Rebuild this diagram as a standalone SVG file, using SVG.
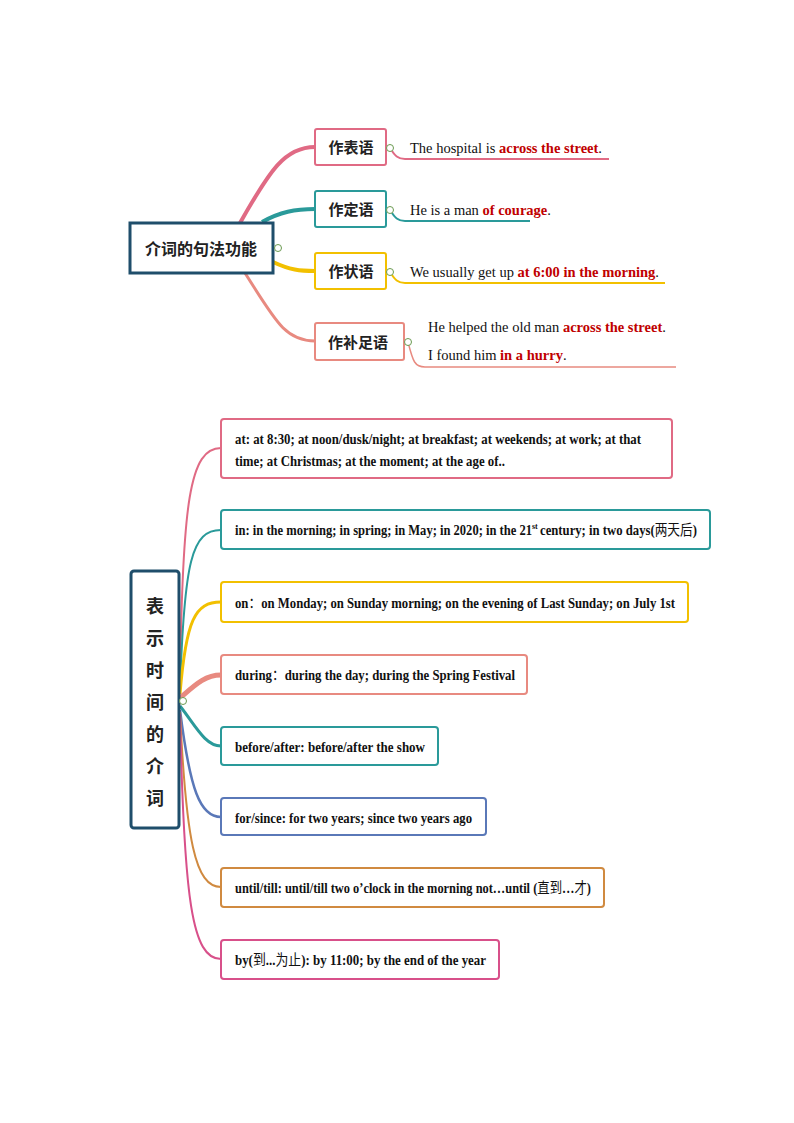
<svg xmlns="http://www.w3.org/2000/svg" width="794" height="1123" viewBox="0 0 794 1123">
<style>
.cn{font-family:"Noto Sans CJK SC",sans-serif;font-weight:bold;fill:#222}
.en{font-family:"Liberation Serif","Noto Sans CJK SC",serif;font-size:14.5px;fill:#111}
.b{font-family:"Liberation Serif","Noto Sans CJK SC",serif;font-size:14.5px;font-weight:bold;fill:#111}
.n{font-weight:normal}
.red{fill:#c00000;font-weight:bold}
.box{fill:#fff;stroke-width:2}
.e{fill:none}
.col{fill:#fff;stroke:#6a9a50;stroke-width:1}
</style>
<rect width="794" height="1123" fill="#fff"/>
<g id="edges">
<path class="e" d="M240,223 C270,170 285,147 315,147" stroke="#e06a84" stroke-width="4"/>
<path class="e" d="M262,222 C280,212 295,209 315,209" stroke="#2a9a9a" stroke-width="4"/>
<path class="e" d="M273,262 C290,270 300,271 315,271" stroke="#f2c000" stroke-width="4"/>
<path class="e" d="M245,273 C275,320 285,341 315,341" stroke="#e88a80" stroke-width="3"/>
<path class="e" d="M390,148 C395,156 398,159 405,159 H609" stroke="#e06a84" stroke-width="2"/>
<path class="e" d="M390,210 C395,218 398,221 405,221 H530" stroke="#2a9a9a" stroke-width="2"/>
<path class="e" d="M390,272 C395,280 398,283 405,283 H665" stroke="#f2c000" stroke-width="2"/>
<path class="e" d="M408,342 C413,362 415,367 425,367 H676" stroke="#e88a80" stroke-width="1.5"/>
<path class="e" d="M180,690 C182,500 190,448 221,448" stroke="#e06a84" stroke-width="2"/>
<path class="e" d="M180,692 C184,560 192,530 221,530" stroke="#2a9a9a" stroke-width="2"/>
<path class="e" d="M180,694 C186,620 195,602 221,602" stroke="#f2c000" stroke-width="3"/>
<path class="e" d="M180,698 C195,685 205,675 221,675" stroke="#e88a80" stroke-width="5"/>
<path class="e" d="M180,706 C195,725 205,746 221,746" stroke="#2a9a9a" stroke-width="3"/>
<path class="e" d="M180,710 C190,790 200,817 221,817" stroke="#5a78b8" stroke-width="2.5"/>
<path class="e" d="M180,712 C186,840 195,887 221,887" stroke="#d08a40" stroke-width="2"/>
<path class="e" d="M180,714 C184,900 192,959 221,959" stroke="#d8508a" stroke-width="2"/>
</g>
<g id="root1">
<rect x="130" y="223" width="143" height="50" fill="#fff" stroke="#1f4e6b" stroke-width="3"/>
<text class="cn" x="201" y="255" font-size="16" text-anchor="middle">介词的句法功能</text>
<circle class="col" cx="278" cy="248" r="3.5"/>
</g>
<g id="n1"><rect class="box" x="315" y="129" width="71" height="36" rx="2" stroke="#e06a84"/><text class="cn" x="351" y="153" font-size="15" text-anchor="middle">作表语</text><circle class="col" cx="390" cy="148" r="3.5"/>
<text class="en" x="410" y="153">The hospital is <tspan class="red">across the street</tspan>.</text></g>
<g id="n2"><rect class="box" x="315" y="191" width="71" height="36" rx="2" stroke="#2a9a9a"/><text class="cn" x="351" y="215" font-size="15" text-anchor="middle">作定语</text><circle class="col" cx="390" cy="210" r="3.5"/>
<text class="en" x="410" y="215">He is a man <tspan class="red">of courage</tspan>.</text></g>
<g id="n3"><rect class="box" x="315" y="253" width="71" height="36" rx="2" stroke="#f2c000"/><text class="cn" x="351" y="277" font-size="15" text-anchor="middle">作状语</text><circle class="col" cx="390" cy="272" r="3.5"/>
<text class="en" x="410" y="277">We usually get up <tspan class="red">at 6:00 in the morning</tspan>.</text></g>
<g id="n4"><rect class="box" x="315" y="323" width="89" height="37" rx="2" stroke="#e88a80"/><text class="cn" x="358" y="348" font-size="15" text-anchor="middle">作补足语</text><circle class="col" cx="408" cy="342" r="3.5"/>
<text class="en" x="428" y="332">He helped the old man <tspan class="red">across the street</tspan>.</text>
<text class="en" x="428" y="360">I found him <tspan class="red">in a hurry</tspan>.</text></g>
<g id="root2">
<rect x="131" y="571" width="48" height="257" rx="3" fill="#fff" stroke="#1f4e6b" stroke-width="3"/>
<g class="cn" font-size="18" text-anchor="middle">
<text x="155" y="613">表</text><text x="155" y="645">示</text><text x="155" y="677">时</text><text x="155" y="709">间</text><text x="155" y="741">的</text><text x="155" y="773">介</text><text x="155" y="805">词</text></g>
<circle class="col" cx="183" cy="701" r="3.5"/>
</g>
<g id="t1"><rect class="box" x="221" y="419" width="451" height="59" rx="3" stroke="#e06a84"/>
<text class="b" x="235" y="444" textLength="406" lengthAdjust="spacingAndGlyphs">at: at 8:30; at noon/dusk/night; at breakfast; at weekends; at work; at that</text>
<text class="b" x="235" y="466" textLength="270" lengthAdjust="spacingAndGlyphs">time; at Christmas; at the moment; at the age of..</text></g>
<g id="t2"><rect class="box" x="221" y="510" width="489" height="39" rx="3" stroke="#2a9a9a"/>
<text class="b" x="235" y="535" textLength="297" lengthAdjust="spacingAndGlyphs">in: in the morning; in spring; in May; in 2020; in the 21</text>
<text class="b" x="532" y="529" style="font-size:8px">st</text>
<text class="b" x="540" y="535" textLength="157" lengthAdjust="spacingAndGlyphs">century; in two days(<tspan class="n">两天后</tspan>)</text></g>
<g id="t3"><rect class="box" x="221" y="582" width="467" height="40" rx="3" stroke="#f2c000"/>
<text class="b" x="235" y="608" textLength="440" lengthAdjust="spacingAndGlyphs">on<tspan class="n">：</tspan>on Monday; on Sunday morning; on the evening of Last Sunday; on July 1st</text></g>
<g id="t4"><rect class="box" x="221" y="655" width="306" height="39" rx="3" stroke="#e88a80"/>
<text class="b" x="235" y="680" textLength="280" lengthAdjust="spacingAndGlyphs">during<tspan class="n">：</tspan>during the day; during the Spring Festival</text></g>
<g id="t5"><rect class="box" x="221" y="727" width="217" height="38" rx="3" stroke="#2a9a9a"/>
<text class="b" x="235" y="752" textLength="190" lengthAdjust="spacingAndGlyphs">before/after: before/after the show</text></g>
<g id="t6"><rect class="box" x="221" y="798" width="265" height="37" rx="3" stroke="#5a78b8"/>
<text class="b" x="235" y="823" textLength="237" lengthAdjust="spacingAndGlyphs">for/since: for two years; since two years ago</text></g>
<g id="t7"><rect class="box" x="221" y="868" width="383" height="39" rx="3" stroke="#d08a40"/>
<text class="b" x="235" y="893" textLength="356" lengthAdjust="spacingAndGlyphs">until/till: until/till two o’clock in the morning not…until (<tspan class="n">直到</tspan>…<tspan class="n">才</tspan>)</text></g>
<g id="t8"><rect class="box" x="221" y="940" width="278" height="39" rx="3" stroke="#d8508a"/>
<text class="b" x="235" y="965" textLength="251" lengthAdjust="spacingAndGlyphs">by(<tspan class="n">到</tspan>...<tspan class="n">为止</tspan>): by 11:00; by the end of the year</text></g>
</svg>
